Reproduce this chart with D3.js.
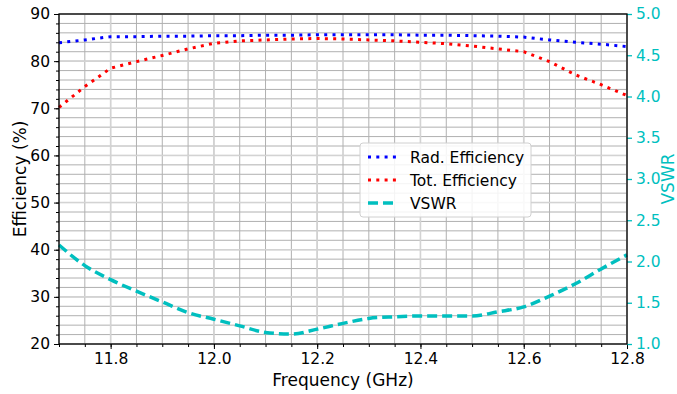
<!DOCTYPE html>
<html>
<head>
<meta charset="utf-8">
<script src="https://cdn.jsdelivr.net/npm/d3@7"></script>
<style>
body { margin: 0; background: #fff; }
text { font-family: "DejaVu Sans", sans-serif; }
</style>
</head>
<body>
<div id="chart"></div>
<script>
// frequency points (GHz)
var freq = [11.70, 11.75, 11.80, 11.85, 11.90, 11.95, 12.00, 12.05, 12.10, 12.15, 12.20, 12.25,
            12.30, 12.35, 12.40, 12.45, 12.50, 12.55, 12.60, 12.65, 12.70, 12.75, 12.80];
var radEff = [83.9, 84.5, 85.2, 85.2, 85.3, 85.3, 85.4, 85.4, 85.5, 85.5, 85.6, 85.6,
              85.6, 85.6, 85.5, 85.5, 85.4, 85.3, 85.1, 84.5, 84.0, 83.6, 83.1];
var totEff = [70.2, 74.6, 78.5, 79.9, 81.2, 82.6, 83.8, 84.3, 84.5, 84.7, 84.8, 84.7,
              84.5, 84.3, 84.0, 83.7, 83.2, 82.6, 82.0, 79.9, 77.1, 75.0, 72.7];
var vswr = [2.20, 1.95, 1.78, 1.64, 1.51, 1.38, 1.30, 1.22, 1.14, 1.12, 1.18, 1.25,
            1.31, 1.33, 1.34, 1.34, 1.34, 1.39, 1.45, 1.58, 1.73, 1.91, 2.08];
var xTicks = [11.8, 12.0, 12.2, 12.4, 12.6, 12.8];
var effTicks = [20, 30, 40, 50, 60, 70, 80, 90];
var vswrTicks = [1.0, 1.5, 2.0, 2.5, 3.0, 3.5, 4.0, 4.5, 5.0];
var legendNames = ["Rad. Efficiency", "Tot. Efficiency", "VSWR"];

var W = 677, H = 394;
var m = { l: 59, r: 50, t: 14, b: 50 };
var iw = W - m.l - m.r, ih = H - m.t - m.b;

var svg = d3.select("#chart").append("svg")
	.attr("width", W)
	.attr("height", H);
var g = svg.append("g").attr("transform", "translate(" + m.l + "," + m.t + ")");

var x = d3.scaleLinear().domain([11.7, 12.8]).range([0, iw]);
var yL = d3.scaleLinear().domain([20, 90]).range([ih, 0]);
var yR = d3.scaleLinear().domain([1, 5]).range([ih, 0]);

var xMinor = d3.range(11.7, 12.8001, 0.05);
var yMinor = d3.range(20, 90.001, 2);

// grid: minor first, then major
var grid = g.append("g");
grid.selectAll(".vminor").data(xMinor).enter().append("line")
	.attr("x1", function(d) { return x(d); }).attr("x2", function(d) { return x(d); })
	.attr("y1", 0).attr("y2", ih)
	.attr("stroke", "#b0b0b0").attr("stroke-width", 1);
grid.selectAll(".hminor").data(yMinor).enter().append("line")
	.attr("y1", function(d) { return yL(d); }).attr("y2", function(d) { return yL(d); })
	.attr("x1", 0).attr("x2", iw)
	.attr("stroke", "#b0b0b0").attr("stroke-width", 1);
grid.selectAll(".vmajor").data(d3.range(11.8, 12.8001, 0.2)).enter().append("line")
	.attr("x1", function(d) { return x(d); }).attr("x2", function(d) { return x(d); })
	.attr("y1", 0).attr("y2", ih)
	.attr("stroke", "#d3d3d3").attr("stroke-width", 1.6);
grid.selectAll(".hmajor").data(effTicks).enter().append("line")
	.attr("y1", function(d) { return yL(d); }).attr("y2", function(d) { return yL(d); })
	.attr("x1", 0).attr("x2", iw)
	.attr("stroke", "#d3d3d3").attr("stroke-width", 1.6);

// lines
var lineL = function(vals) {
	return d3.line()
		.x(function(d, i) { return x(freq[i]); })
		.y(function(d) { return yL(d); })(vals);
};
var lineR = d3.line()
	.curve(d3.curveMonotoneX)
	.x(function(d, i) { return x(freq[i]); })
	.y(function(d) { return yR(d); });

var clip = svg.append("clipPath").attr("id", "clip")
	.append("rect").attr("x", -2).attr("y", -2).attr("width", iw + 4).attr("height", ih + 4);
var plot = g.append("g").attr("clip-path", "url(#clip)");

plot.append("path").attr("d", lineL(radEff))
	.attr("fill", "none").attr("stroke", "#0000ff").attr("stroke-width", 3)
	.attr("stroke-dasharray", "3,5.3");
plot.append("path").attr("d", lineL(totEff))
	.attr("fill", "none").attr("stroke", "#ff0000").attr("stroke-width", 3)
	.attr("stroke-dasharray", "3,5.3");
plot.append("path").attr("d", lineR(vswr))
	.attr("fill", "none").attr("stroke", "#00bfbf").attr("stroke-width", 3.5)
	.attr("stroke-dasharray", "10,5");

// axes
var xAxis = g.append("g").attr("transform", "translate(0," + ih + ")")
	.call(d3.axisBottom(x).tickValues(xTicks).tickFormat(d3.format(".1f")).tickSize(5).tickPadding(4));
g.append("g").attr("transform", "translate(0," + ih + ")")
	.call(d3.axisBottom(x).tickValues(xMinor).tickFormat("").tickSize(3));
var yAxisL = g.append("g")
	.call(d3.axisLeft(yL).tickValues(effTicks).tickFormat(d3.format("d")).tickSize(5).tickPadding(4));
g.append("g")
	.call(d3.axisLeft(yL).tickValues(yMinor).tickFormat("").tickSize(3));
var yAxisR = g.append("g").attr("transform", "translate(" + iw + ",0)")
	.call(d3.axisRight(yR).tickValues(vswrTicks).tickFormat(d3.format(".1f")).tickSize(5).tickPadding(4));

svg.selectAll(".domain").remove();
g.selectAll(".tick text").attr("font-size", 15.5).attr("fill", "#000")
	.style("font-family", "DejaVu Sans, sans-serif");
g.selectAll(".tick line").attr("stroke", "#000").attr("stroke-width", 1);
yAxisR.selectAll(".tick text").attr("fill", "#00bfbf");
yAxisR.selectAll(".tick line").attr("stroke", "#00bfbf").attr("stroke-width", 1.3);

// frame
g.append("rect").attr("width", iw).attr("height", ih)
	.attr("fill", "none").attr("stroke", "#000").attr("stroke-width", 1.3);

// axis labels
svg.append("text").attr("x", m.l + iw / 2).attr("y", 386)
	.attr("text-anchor", "middle").attr("font-size", 17).text("Frequency (GHz)");
svg.append("text").attr("transform", "translate(26," + (m.t + ih / 2) + ") rotate(-90)")
	.attr("text-anchor", "middle").attr("font-size", 17).text("Efficiency (%)");
svg.append("text").attr("transform", "translate(674," + (m.t + ih / 2) + ") rotate(-90)")
	.attr("text-anchor", "middle").attr("font-size", 17).attr("fill", "#00bfbf").text("VSWR");

// legend
var leg = svg.append("g").attr("transform", "translate(360,143)");
leg.append("rect").attr("width", 171).attr("height", 74).attr("rx", 3)
	.attr("fill", "#fff").attr("fill-opacity", 0.85)
	.attr("stroke", "#d0d0d0").attr("stroke-width", 1);
var legStyles = [
	{ c: "#0000ff", w: 3, d: "3,5.3" },
	{ c: "#ff0000", w: 3, d: "3,5.3" },
	{ c: "#00bfbf", w: 3.5, d: "10,5" }
];
legendNames.forEach(function(name, i) {
	var yy = 14 + i * 23;
	leg.append("line").attr("x1", 8).attr("x2", 38).attr("y1", yy).attr("y2", yy)
		.attr("stroke", legStyles[i].c).attr("stroke-width", legStyles[i].w)
		.attr("stroke-dasharray", legStyles[i].d);
	leg.append("text").attr("x", 50).attr("y", yy + 5.5).attr("font-size", 15.5).text(name);
});
</script>
</body>
</html>
